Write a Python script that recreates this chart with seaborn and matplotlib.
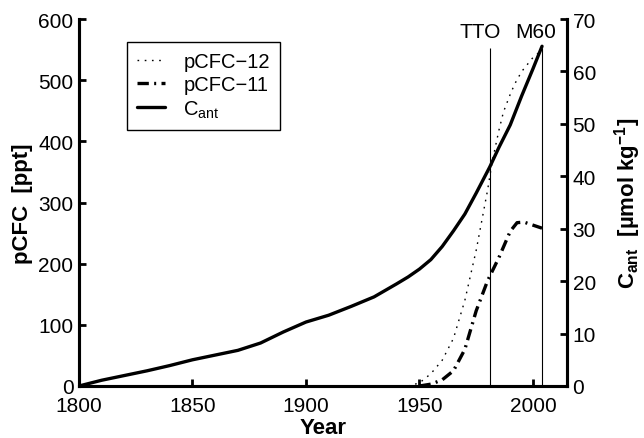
import matplotlib
matplotlib.use("Agg")
import matplotlib.pyplot as plt
import seaborn as sns
import pandas as pd

# Atmospheric CFC partial pressures (ppt)
years_cfc12 = [1945, 1950, 1955, 1960, 1965, 1970, 1975, 1980, 1982, 1985, 1987,
               1990, 1992, 1995, 2000, 2003]
pcfc12 = [0, 5, 20, 42, 78, 140, 222, 320, 366, 418, 448, 477, 494, 514, 537, 546]

years_cfc11 = [1950, 1955, 1960, 1965, 1970, 1975, 1980, 1985, 1990, 1993, 1996,
               2000, 2004]
pcfc11 = [0, 3, 10, 25, 60, 123, 172, 210, 253, 267, 268, 263, 258]

# Anthropogenic carbon (umol/kg)
years_cant = [1800, 1810, 1820, 1830, 1840, 1850, 1860, 1870, 1880, 1890, 1900, 1910,
              1920, 1930, 1940, 1945, 1950, 1955, 1960, 1965, 1970, 1975, 1978, 1981,
              1985, 1990, 1995, 2000, 2004]
cant = [0, 1.1, 2.0, 2.9, 3.9, 5.0, 5.9, 6.8, 8.2, 10.3, 12.2, 13.5,
        15.2, 17.0, 19.5, 20.8, 22.3, 24.1, 26.6, 29.6, 32.8, 36.8, 39.3, 41.8,
        45.5, 49.8, 55.3, 60.5, 64.8]

cruises = ["TTO", "M60"]
cruise_years = [1981, 2004]

x_ticks = [1800, 1850, 1900, 1950, 2000]
left_ticks = [0, 100, 200, 300, 400, 500, 600]
right_ticks = [0, 10, 20, 30, 40, 50, 60, 70]

sns.set_style("ticks")
plt.rcParams.update({
    "font.family": ["Liberation Sans", "DejaVu Sans"],
    "mathtext.fontset": "custom",
    "mathtext.rm": "Liberation Sans",
    "mathtext.it": "Liberation Sans:italic",
    "mathtext.bf": "Liberation Sans:bold",
    "text.color": "black",
    "axes.labelcolor": "black",
    "xtick.color": "black",
    "ytick.color": "black",
    "axes.edgecolor": "black",
})

df12 = pd.DataFrame({"Year": years_cfc12, "pCFC": pcfc12})
df11 = pd.DataFrame({"Year": years_cfc11, "pCFC": pcfc11})
dfc = pd.DataFrame({"Year": years_cant, "Cant": cant})

fig = plt.figure(figsize=(6.44, 4.39), dpi=100)
ax = fig.add_axes([79 / 644, 52 / 439, 488 / 644, 367 / 439])
ax2 = ax.twinx()

sns.lineplot(data=df12, x="Year", y="pCFC", ax=ax, color="k", lw=1.0,
             linestyle=(0, (1.2, 4)), legend=False)
sns.lineplot(data=df11, x="Year", y="pCFC", ax=ax, color="k", lw=2.4,
             linestyle=(0, (3.4, 1.6, 0.6, 1.6)), legend=False)
sns.lineplot(data=dfc, x="Year", y="Cant", ax=ax2, color="k", lw=2.4,
             legend=False)

# cruise markers
ax.vlines(cruise_years, 0, 553, color="k", lw=0.8)
for name, yr, dx in zip(cruises, cruise_years, [-4.3, -2.7]):
    ax.text(yr + dx, 579, name, ha="center", va="center", fontsize=15)

ax.set_xlim(1800, 2015)
ax.set_ylim(0, 600)
ax2.set_ylim(0, 70)
ax.set_xticks(x_ticks)
ax.set_yticks(left_ticks)
ax2.set_yticks(right_ticks)

for a in (ax, ax2):
    a.spines["top"].set_visible(False)
    for s in ("left", "bottom", "right"):
        a.spines[s].set_linewidth(2.2)
ax.tick_params(axis="both", direction="in", length=5, width=2, labelsize=15)
ax.tick_params(axis="x", pad=7)
ax.tick_params(axis="y", pad=4)
ax2.tick_params(axis="y", direction="in", length=5, width=2, labelsize=15, pad=4)

ax.set_xlabel("Year", fontsize=16, fontweight="bold", labelpad=1.5)
ax.set_ylabel("pCFC  [ppt]", fontsize=16, fontweight="bold", labelpad=4)
ax2.set_ylabel(r"C$_{\mathbf{ant}}$  [µmol kg$^{\mathbf{-1}}$]", fontsize=16,
               fontweight="bold", labelpad=12)

handles = [ax.lines[0], ax.lines[1], ax2.lines[0]]
labels = ["pCFC\u221212", "pCFC\u221211", r"C$_{\mathrm{ant}}$"]
leg = ax.legend(handles, labels, loc="upper left", bbox_to_anchor=(0.098, 0.937),
                borderaxespad=0, fontsize=14.5, frameon=True, fancybox=False,
                framealpha=1, edgecolor="k", handlelength=1.4, handletextpad=0.9,
                labelspacing=0.2, borderpad=0.5)
leg.get_frame().set_linewidth(1.0)

fig.savefig("out.png", dpi=100)
